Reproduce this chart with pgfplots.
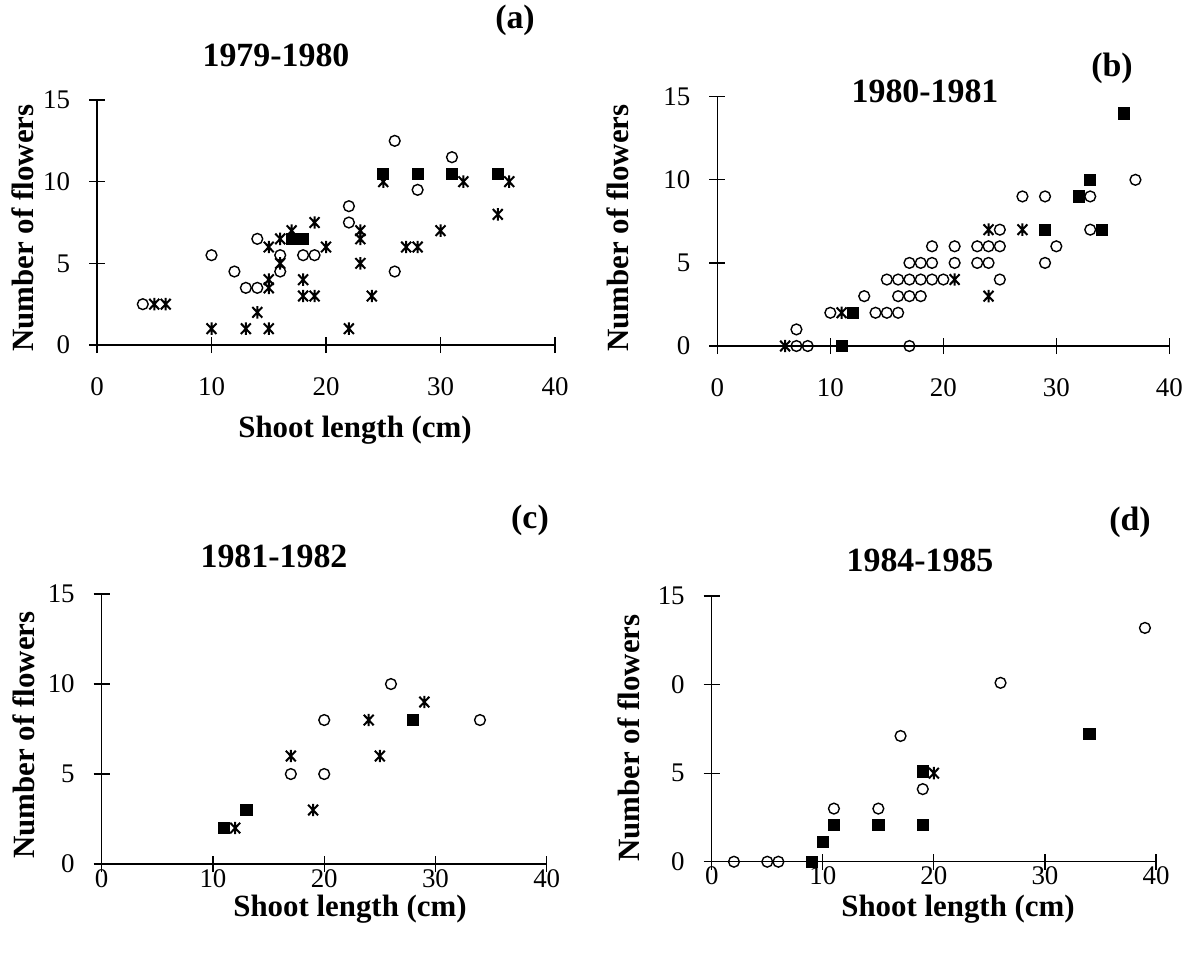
\documentclass[border=0pt]{standalone}
\usepackage{fontspec}
\setmainfont{Liberation Serif}
\usepackage{pgfplots}
\pgfplotsset{compat=1.18}

% X with a vertical bar through it, like the scanned marker
\pgfdeclareplotmark{ast}{%
  \pgfpathmoveto{\pgfqpoint{0pt}{-\pgfplotmarksize}}%
  \pgfpathlineto{\pgfqpoint{0pt}{\pgfplotmarksize}}%
  \pgfpathmoveto{\pgfqpoint{-.8\pgfplotmarksize}{-.85\pgfplotmarksize}}%
  \pgfpathlineto{\pgfqpoint{.8\pgfplotmarksize}{.85\pgfplotmarksize}}%
  \pgfpathmoveto{\pgfqpoint{-.8\pgfplotmarksize}{.85\pgfplotmarksize}}%
  \pgfpathlineto{\pgfqpoint{.8\pgfplotmarksize}{-.85\pgfplotmarksize}}%
  \pgfusepathqstroke}

\pgfplotsset{
  panel/.style={scale only axis,xmin=0,xmax=40,ymin=0,ymax=15,
    axis x line=bottom,axis y line=left,axis line style={-,line width=0.6bp},
    tick align=center,major tick length=8bp,tick style={line width=0.6bp,black},
    xtick={0,10,20,30,40},ytick={0,5,10,15},clip=false,
    ticklabel style={font=\fontsize{13.5}{14}\selectfont},
    /pgf/number format/assume math mode=true,
    yticklabel style={xshift=-6bp}},
  circ/.style={only marks,mark=o,mark size=2.7bp,mark options={line width=0.7bp,draw=black}},
  sq/.style={only marks,mark=square*,mark size=2.8bp,mark options={draw=black,fill=black}},
  as/.style={only marks,mark=ast,mark size=3.1bp,mark options={line width=1bp,draw=black}}}

\begin{document}
\begin{tikzpicture}[x=0.5bp,y=-0.5bp]
\useasboundingbox (0,0) rectangle (1191,959);

% (a)
\begin{axis}[panel,at={(48.5bp,-172.5bp)},anchor=south west,width=229bp,height=122.5bp,
  xticklabel style={yshift=-9bp}]
\addplot[circ] coordinates {(4,2.5) (10,5.5) (12,4.5) (13,3.5) (14,3.5) (14,6.5) (16,5.5) (16,4.5)
  (18,5.5) (19,5.5) (22,8.5) (22,7.5) (26,12.5) (31,11.5) (28,9.5) (26,4.5)};
\addplot[sq] coordinates {(17,6.5) (18,6.5) (25,10.5) (28,10.5) (31,10.5) (35,10.5)};
\addplot[as] coordinates {(5,2.5) (6,2.5) (10,1) (13,1) (14,2) (15,1) (15,6) (15,4) (15,3.5)
  (16,6.5) (16,5) (17,7) (19,7.5) (20,6) (18,4) (18,3) (19,3) (22,1) (23,7) (23,6.5) (23,5)
  (24,3) (25,10) (27,6) (28,6) (30,7) (32,10) (36,10) (35,8)};
\end{axis}

% (b)
\begin{axis}[panel,at={(358.65bp,-173bp)},anchor=south west,width=226bp,height=124.65bp,
  xticklabel style={yshift=-9bp}]
\addplot[circ] coordinates {(7,0) (8,0) (7,1) (17,0) (10,2) (14,2) (15,2) (16,2) (13,3) (16,3)
  (17,3) (18,3) (15,4) (16,4) (17,4) (18,4) (19,4) (20,4) (25,4) (17,5) (18,5) (19,5) (21,5)
  (23,5) (24,5) (29,5) (19,6) (21,6) (23,6) (24,6) (25,6) (30,6) (25,7) (33,7) (27,9) (29,9)
  (33,9) (37,10)};
\addplot[sq] coordinates {(11,0) (12,2) (29,7) (34,7) (32,9) (33,10) (36,14)};
\addplot[as] coordinates {(6,0) (11,2) (21,4) (24,3) (24,7) (27,7)};
\end{axis}

% (c)
\begin{axis}[panel,at={(50.85bp,-432bp)},anchor=south west,width=222.5bp,height=135bp,
  xticklabel style={yshift=4.5bp}]
\addplot[circ] coordinates {(17,5) (20,8) (20,5) (26,10) (34,8)};
\addplot[sq] coordinates {(11,2) (13,3) (28,8)};
\addplot[as] coordinates {(12,2) (17,6) (19,3) (24,8) (25,6) (29,9)};
\end{axis}

% (d)
\begin{axis}[panel,at={(355.85bp,-430.85bp)},anchor=south west,width=222.15bp,height=132.85bp,
  yticklabels={0,5,0,15},xticklabel style={yshift=5bp}]
\addplot[circ] coordinates {(2,0) (5,0) (6,0) (11,3) (15,3) (17,7.1) (19,4.1) (26,10.1) (39,13.2)};
\addplot[sq] coordinates {(9,0) (10,1.1) (11,2.1) (15,2.1) (19,5.1) (19,2.1) (34,7.2)};
\addplot[as] coordinates {(20,5)};
\end{axis}

\tikzset{lab/.style={font=\fontsize{17}{17}\selectfont\bfseries},
  alab/.style={font=\fontsize{15.5}{16}\selectfont\bfseries}}
\node[lab] at (515,20) {(a)};
\node[lab] at (276,55) {1979-1980};
\node[lab] at (1112,68) {(b)};
\node[lab] at (925,91) {1980-1981};
\node[lab] at (530,520) {(c)};
\node[lab] at (274,556) {1981-1982};
\node[lab] at (1130,522) {(d)};
\node[lab] at (920,560) {1984-1985};
\node[alab,rotate=90] at (23,228) {Number of flowers};
\node[alab,rotate=90] at (618,228) {Number of flowers};
\node[alab,rotate=90] at (24,735) {Number of flowers};
\node[alab,rotate=90] at (629,738) {Number of flowers};
\node[alab] at (355,430) {Shoot length (cm)};
\node[alab] at (350,909) {Shoot length (cm)};
\node[alab] at (958,909) {Shoot length (cm)};
\end{tikzpicture}
\end{document}
